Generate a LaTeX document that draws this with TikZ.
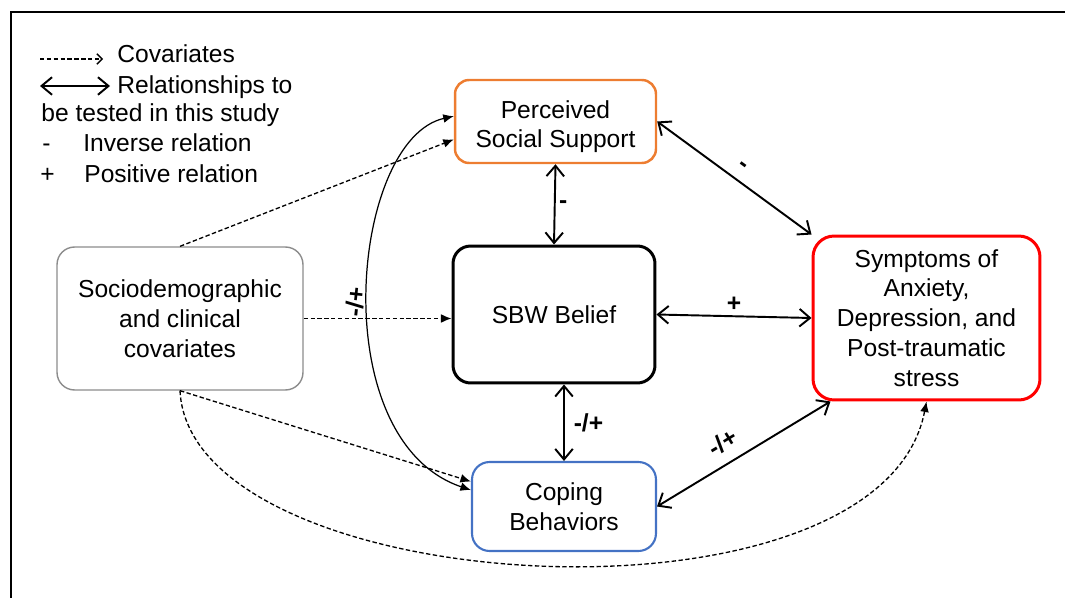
\documentclass[tikz,border=0pt]{standalone}
\usepackage{fontspec}
\setmainfont{Liberation Sans}
\usetikzlibrary{arrows.meta}

\definecolor{pssorange}{HTML}{ED7D31}
\definecolor{copeblue}{HTML}{4472C4}
\definecolor{covgray}{HTML}{8C8C8C}

\tikzset{
  box/.style={draw, rounded corners=10pt, align=center, inner sep=2pt},
  rel/.style={{Straight Barb[length=6pt,width=10pt]}-{Straight Barb[length=6pt,width=10pt]}, line width=1.1pt},
  cov/.style={-{Latex[length=6pt,width=5pt]}, dash pattern=on 2.5pt off 1.4pt, line width=0.75pt},
  lbl/.style={font=\fontsize{14}{17}\selectfont\bfseries, inner sep=2pt},
  legtxt/.style={anchor=base west, inner sep=0pt},
}

\begin{document}
\begin{tikzpicture}[x=0.02cm, y=-0.02cm, font=\fontsize{14}{17}\selectfont]
  \useasboundingbox (0,0) rectangle (1065,598);
  % 外框（只有左边和上边）
  \draw[line width=1.1pt] (11,598) -- (11,12) -- (1065,12);

  % 图例
  \coordinate (covA) at (40,59);
  \coordinate (covB) at (103,59);
  \coordinate (relA) at (40,86);
  \coordinate (relB) at (110,86);
  \draw[dash pattern=on 2.5pt off 1.4pt, line width=0.75pt, -{Straight Barb[length=3pt,width=6pt]}] (covA) -- (covB);
  \draw[rel] (relA) -- (relB);
  \node[legtxt] (legcov) at (117,63) {Covariates};
  \node[legtxt] (legrel) at (117,93) {Relationships to};
  \node[legtxt] (legrel2) at (41,122) {be tested in this study};
  \node[legtxt] (legminus) at (42,152) {-};
  \node[legtxt] (leginv) at (83,152) {Inverse relation};
  \node[legtxt] (legplus) at (40,182) {+};
  \node[legtxt] (legpos) at (84,182) {Positive relation};

  % 变量框
  \node[box, draw=pssorange, line width=1.4pt, rounded corners=8pt, minimum width=4.02cm, minimum height=1.66cm, inner ysep=0pt] (pss) at (555.5,121.5) {\rule{0pt}{16pt}Perceived\\Social Support};
  \node[box, line width=1.7pt, minimum width=4.04cm, minimum height=2.74cm] (sbw) at (554,314.5) {SBW Belief};
  \node[box, draw=covgray, line width=0.8pt, minimum width=4.92cm, minimum height=2.86cm] (socio) at (180,318.5) {Sociodemographic\\and clinical\\covariates};
  \node[box, draw=red, line width=1.7pt, rounded corners=12pt, minimum width=4.54cm, minimum height=3.28cm] (sym) at (926.5,318) {Symptoms of\\Anxiety,\\Depression, and\\Post-traumatic\\stress};
  \node[box, draw=copeblue, line width=1.2pt, minimum width=3.68cm, minimum height=1.78cm] (coping) at (564,506.5) {Coping\\Behaviors};

  % 待检验的关系
  \draw[rel] (pss.south) -- (sbw.north) node[midway, right, lbl] {-};
  \draw[rel] (pss.east) -- (sym.north west) node[midway, sloped, above=3pt, lbl] {-};
  \draw[rel] (sbw.east) -- (sym.west) node[midway, above, lbl] {+};
  \draw[rel] (coping.north |- sbw.south) -- (coping.north) node[midway, right=3pt, lbl] {-/+};
  \draw[rel] (coping.east) -- (sym.221) node[pos=0.44, sloped, above=4pt, lbl] {-/+};
  \draw[{Latex[length=6pt,width=5pt]}-{Latex[length=6pt,width=5pt]}, line width=0.7pt]
    (coping.170) .. controls +(-148,-50) and +(-103,23) .. (pss.177)
    node[pos=0.48, rotate=84, anchor=south, inner ysep=12pt, lbl] {-/+};

  % 协变量
  \draw[cov] (socio.north) -- (pss.190);
  \draw[cov] (socio.east) -- (socio.east -| sbw.west);
  \draw[cov] (socio.south) -- (coping.165);
  \draw[cov] (socio.south) .. controls +(10,210) and +(-46,240) .. (sym.south);
\end{tikzpicture}
\end{document}
